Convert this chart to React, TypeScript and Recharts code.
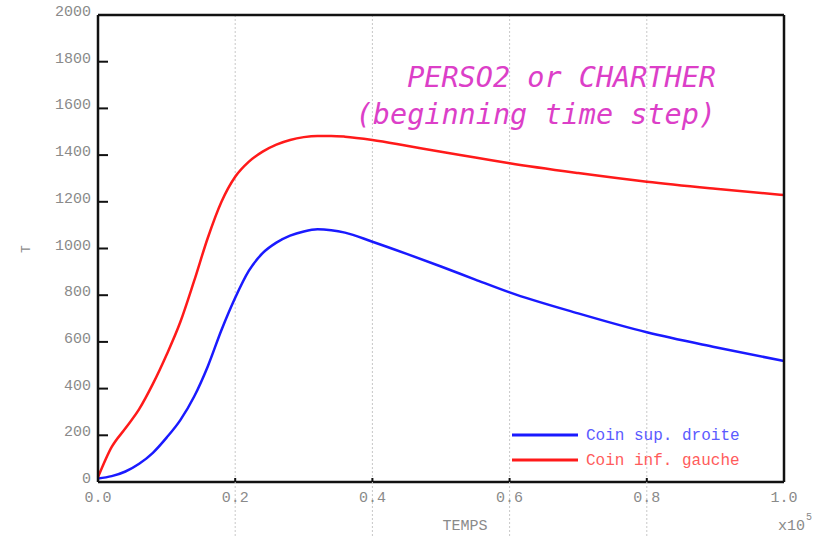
import { LineChart, Line, XAxis, YAxis, CartesianGrid, Legend, ReferenceLine } from "recharts";

const times = [0, 0.02, 0.04, 0.06, 0.08, 0.1, 0.12, 0.14, 0.16, 0.18, 0.2, 0.22, 0.24, 0.26, 0.28, 0.3, 0.32, 0.34, 0.36, 0.4, 0.45, 0.5, 0.55, 0.6, 0.7, 0.8, 0.9, 1.0];
const coinSup = [15, 25, 45, 78, 125, 190, 265, 365, 495, 651, 789, 905, 980, 1025, 1055, 1073, 1082, 1078, 1068, 1029, 977, 923, 867, 812, 722, 641, 577, 518];
const coinInf = [20, 150, 230, 312, 420, 545, 685, 860, 1045, 1200, 1307, 1372, 1415, 1445, 1465, 1477, 1482, 1482, 1479, 1465, 1440, 1414, 1390, 1365, 1323, 1286, 1256, 1229];
const xTicks = [0, 0.2, 0.4, 0.6, 0.8, 1.0];
const yTicks = [0, 200, 400, 600, 800, 1000, 1200, 1400, 1600, 1800, 2000];

const data = times.map((t, i) => ({ t, sup: coinSup[i], inf: coinInf[i] }));

const mono = '"Courier New", "Liberation Mono", monospace';
const grey = "#8a8a8a";
const legendOrder = ["sup", "inf"];
const legendText: Record<string, string> = { sup: "#5b5bff", inf: "#ff5b5b" };

const LeftTick = (props: any) => {
  const { x, y, payload } = props;
  return (
    <g>
      {payload.value > 0 && payload.value < 2000 && (
        <line x1={x} x2={x + 10} y1={y} y2={y} stroke="#111" strokeWidth={2} />
      )}
      <text x={x - 7} y={y + 1} textAnchor="end" fontFamily={mono} fontSize={15} fill={grey}>
        {payload.value}
      </text>
    </g>
  );
};

const RightTick = (props: any) => {
  const { x, y, payload } = props;
  if (payload.value <= 0 || payload.value >= 2000) return <g />;
  return <line x1={x - 10} x2={x} y1={y} y2={y} stroke="#111" strokeWidth={2} />;
};

const BottomTick = (props: any) => {
  const { x, y, payload } = props;
  const inner = payload.value > 0 && payload.value < 1;
  return (
    <g>
      {inner && <line x1={x} x2={x} y1={y} y2={y + 55} stroke="#c8c8c8" strokeDasharray="2 2" />}
      {inner && <line x1={x} x2={x} y1={y - 4} y2={y} stroke="#111" strokeWidth={2} />}
      <text x={x} y={y + 20} textAnchor="middle" fontFamily={mono} fontSize={15} fill={grey}>
        {payload.value.toFixed(1)}
      </text>
    </g>
  );
};

const LegendBox = (props: any) => {
  const items = [...(props.payload || [])].sort(
    (a: any, b: any) => legendOrder.indexOf(a.dataKey) - legendOrder.indexOf(b.dataKey)
  );
  return (
    <svg width={240} height={50}>
      {items.map((it: any, i: number) => (
        <g key={it.dataKey}>
          <line x1={0} x2={66} y1={12 + i * 25} y2={12 + i * 25} stroke={it.color} strokeWidth={3} />
          <text x={74} y={17 + i * 25} fontFamily={mono} fontSize={16} fill={legendText[it.dataKey]}>
            {it.value}
          </text>
        </g>
      ))}
    </svg>
  );
};

export default function App() {
  return (
    <div style={{ position: "absolute", left: 0, top: 0, width: 831, height: 537 }}>
      <LineChart width={831} height={537} data={data} margin={{ top: 15, right: 0, bottom: 0, left: 0 }}>
        <CartesianGrid horizontal={false} stroke="#c8c8c8" strokeDasharray="2 2" />
        <XAxis
          dataKey="t"
          type="number"
          domain={[0, 1]}
          ticks={xTicks}
          height={55}
          tickSize={0}
          tickMargin={0}
          tickLine={false}
          tick={<BottomTick />}
          axisLine={{ stroke: "#111", strokeWidth: 2.5 }}
        />
        <YAxis
          yAxisId="l"
          domain={[0, 2000]}
          ticks={yTicks}
          width={98}
          tickSize={0}
          tickMargin={0}
          tickLine={false}
          tick={<LeftTick />}
          axisLine={{ stroke: "#111", strokeWidth: 2.5 }}
        />
        <YAxis
          yAxisId="r"
          orientation="right"
          domain={[0, 2000]}
          ticks={yTicks}
          width={47}
          tickSize={0}
          tickMargin={0}
          tickLine={false}
          tick={<RightTick />}
          axisLine={{ stroke: "#111", strokeWidth: 2.5 }}
        />
        <ReferenceLine yAxisId="l" y={2000} stroke="#111" strokeWidth={2.5} />
        <Line yAxisId="l" type="monotone" dataKey="sup" name="Coin sup. droite" stroke="#1a1aff" strokeWidth={2.5} dot={false} isAnimationActive={false} />
        <Line yAxisId="l" type="monotone" dataKey="inf" name="Coin inf. gauche" stroke="#ff1a1a" strokeWidth={2.5} dot={false} isAnimationActive={false} />
        <Legend
          layout="vertical"
          align="center"
          verticalAlign="middle"
          content={<LegendBox />}
          wrapperStyle={{ position: "absolute", left: 512, top: 423, width: 240, height: 50 }}
        />
      </LineChart>
      <svg width={831} height={537} style={{ position: "absolute", left: 0, top: 0, pointerEvents: "none" }}>
        <text x={26} y={249} transform="rotate(-90 26 249)" textAnchor="middle" dominantBaseline="central" fontFamily={mono} fontSize={13} fill={grey}>
          T
        </text>
        <text x={465} y={530} textAnchor="middle" fontFamily={mono} fontSize={15} fill={grey}>
          TEMPS
        </text>
        <text x={778} y={530} fontFamily={mono} fontSize={15} fill={grey}>
          x10
        </text>
        <text x={806} y={520} fontFamily={mono} fontSize={10} fill={grey}>
          5
        </text>
        <text x={716} y={87} textAnchor="end" fontFamily='"DejaVu Sans Mono", monospace' fontStyle="italic" fontSize={28.5} fill="#dc3fc8">
          PERSO2 or CHARTHER
        </text>
        <text x={716} y={124} textAnchor="end" fontFamily='"DejaVu Sans Mono", monospace' fontStyle="italic" fontSize={28.5} fill="#dc3fc8">
          (beginning time step)
        </text>
      </svg>
    </div>
  );
}
